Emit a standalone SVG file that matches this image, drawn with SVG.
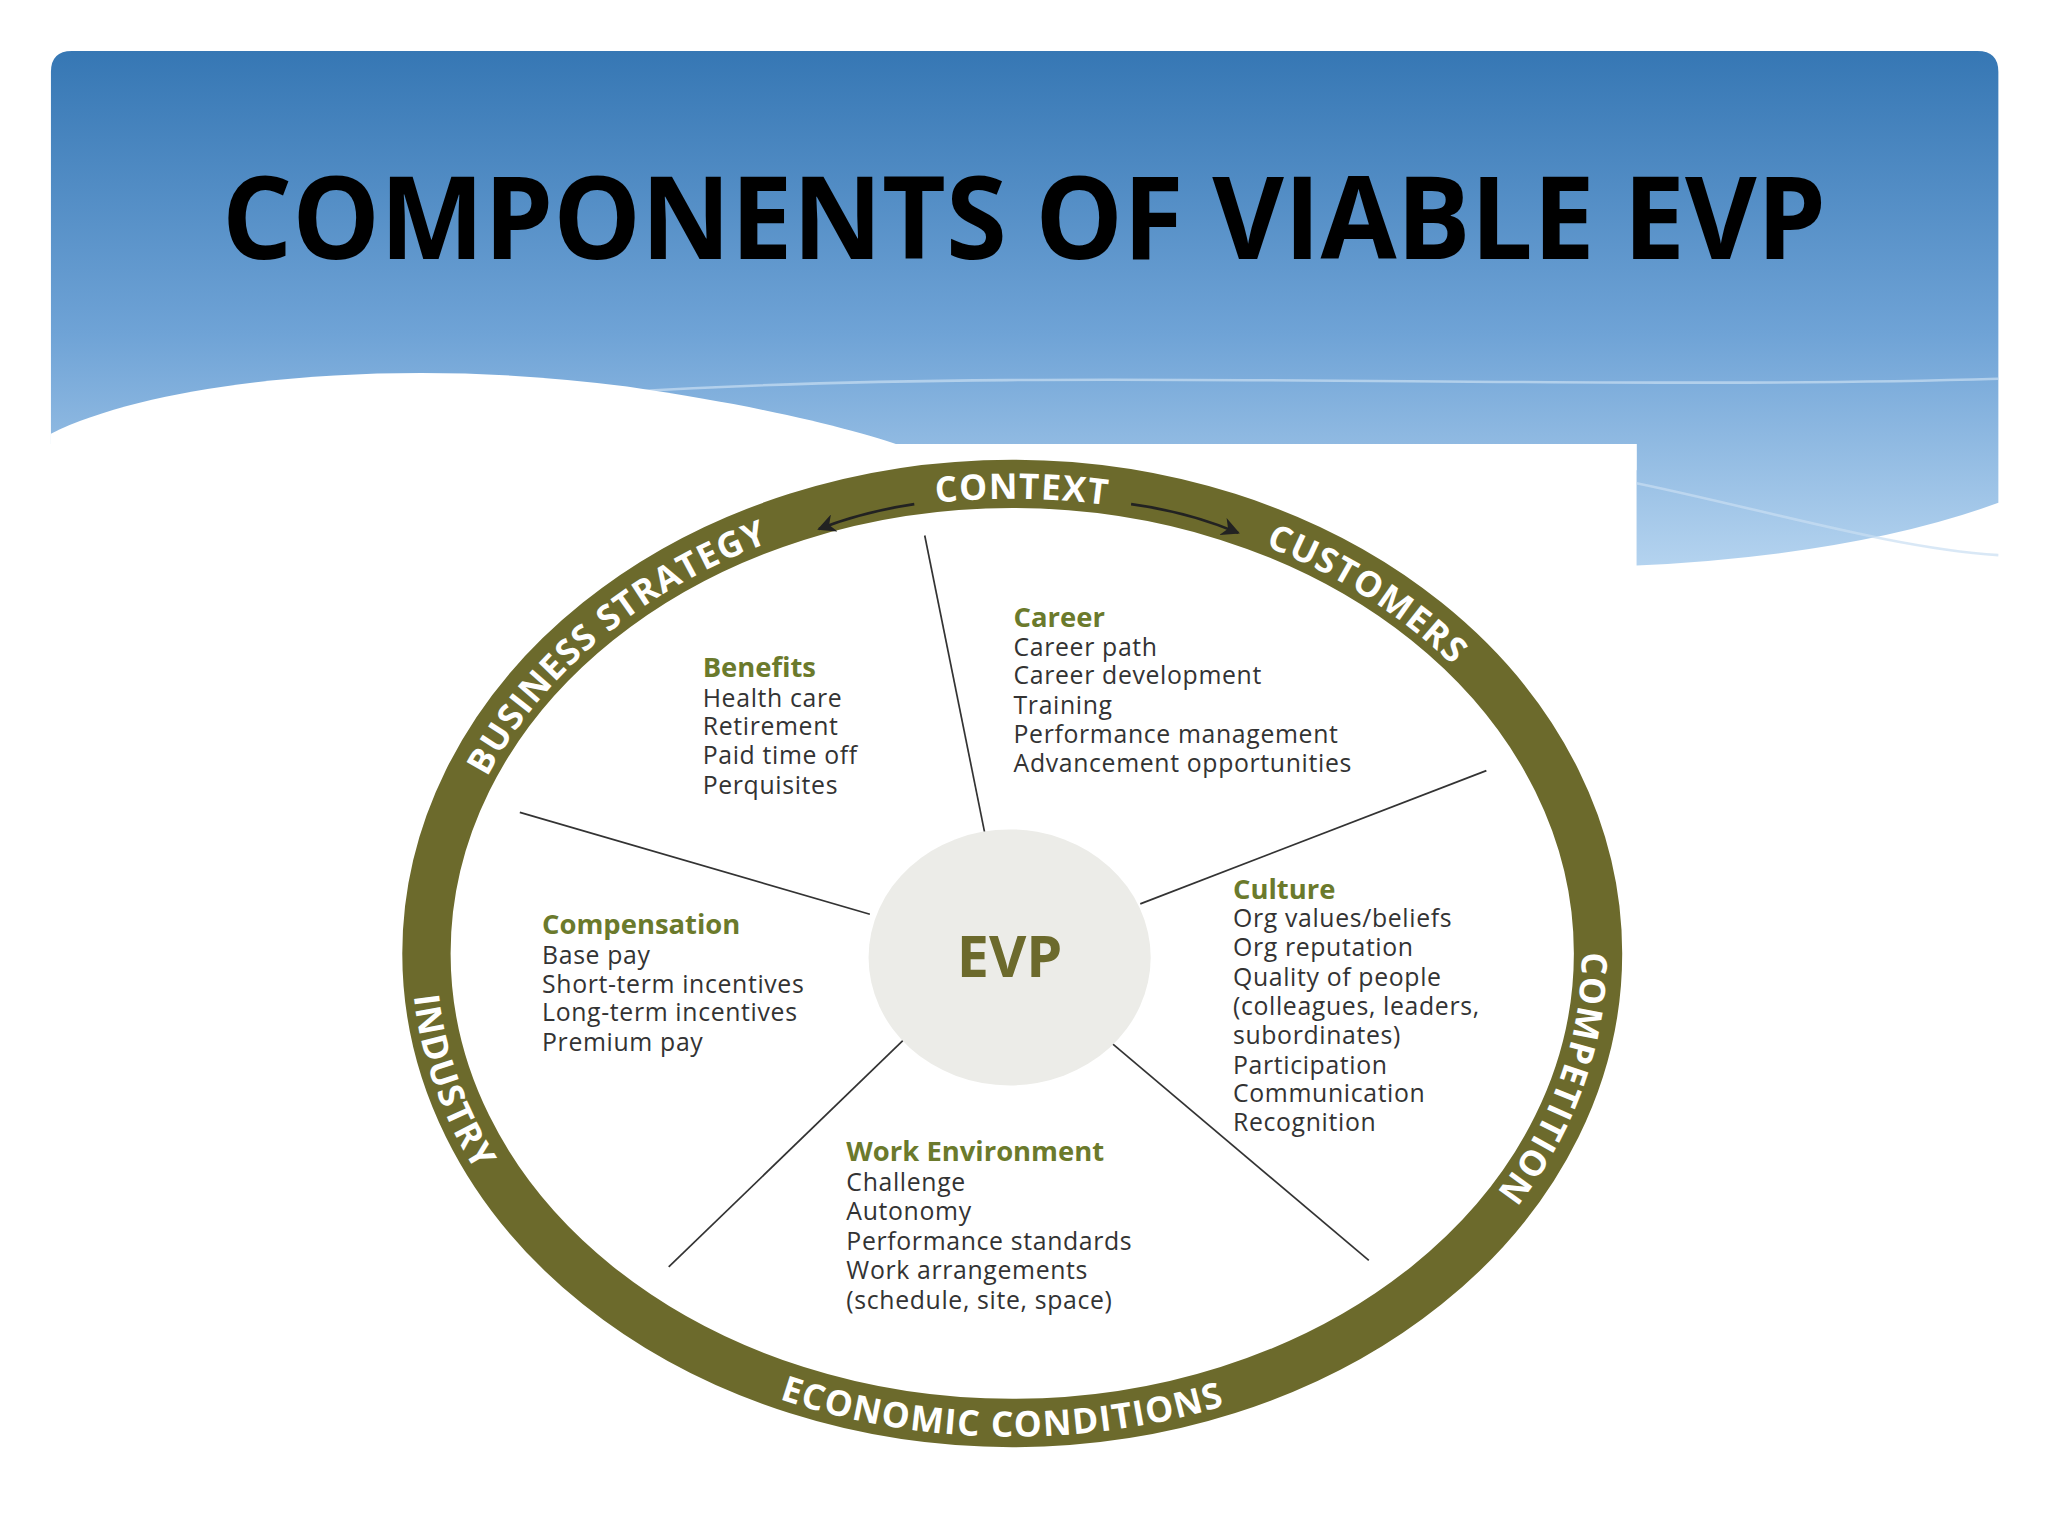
<svg xmlns="http://www.w3.org/2000/svg" width="2048" height="1536" viewBox="0 0 2048 1536">
<defs>
<linearGradient id="hg" x1="0" y1="0" x2="0" y2="1">
<stop offset="0" stop-color="#3677b4"/><stop offset="0.55" stop-color="#6fa3d6"/><stop offset="1" stop-color="#b4d3ef"/>
</linearGradient>
<marker id="ah" viewBox="0 0 10 10" refX="9" refY="5" markerWidth="7" markerHeight="7" orient="auto"><path d="M0,0 L10,5 L0,10 L3,5 Z" fill="#222"/></marker>
<path id="cw" d="M 339,730 A 436 348 0 1 1 1211,730 A 436 348 0 1 1 339,730"/>
<path id="ccw" d="M 315,730 A 460 370 0 1 0 1235,730 A 460 370 0 1 0 315,730"/>
<style>
.ring{font-family:"Open Sans","Liberation Sans",sans-serif;font-weight:700;font-size:27px;fill:#fff;letter-spacing:1px}
.hd{font-family:"Open Sans","Liberation Sans",sans-serif;font-weight:700;font-size:21px;fill:#6b7a2c}
.it{font-family:"Open Sans","Liberation Sans",sans-serif;font-size:19px;fill:#333;letter-spacing:0.5px}
.dv{stroke:#333;stroke-width:1.3}
</style>
</defs>
<rect width="2048" height="1536" fill="#fff"/>
<g transform="scale(1.30612)">
<g id="header">
<path d="M39,55 Q39,39 55,39 L1514,39 Q1530,39 1530,55 L1530,385 Q1420,425 1253,433 L1253,340 L39,340 Z" fill="url(#hg)"/>
<path d="M480,300 C800,280 1200,300 1530,290" fill="none" stroke="#c9def2" stroke-width="2" opacity="0.7"/>
<path d="M1253,370 C1350,390 1450,420 1530,425" fill="none" stroke="#c9def2" stroke-width="2" opacity="0.7"/>
<path d="M39,332 C120,292 300,272 480,296 C590,312 660,330 700,345 L39,345 Z" fill="#fff"/>
<rect x="72" y="340" width="1181" height="20" fill="#fff"/>
<text x="784" y="198" text-anchor="middle" font-family="Open Sans, Liberation Sans, sans-serif" font-weight="700" font-size="88" textLength="1228" lengthAdjust="spacingAndGlyphs" fill="#000">COMPONENTS OF VIABLE EVP</text>
</g>
<g id="ring">
<ellipse cx="775" cy="730" rx="448.5" ry="359.5" fill="none" stroke="#6c6a2c" stroke-width="37"/>
<text class="ring"><textPath href="#cw" startOffset="11.5%" text-anchor="middle">BUSINESS STRATEGY</textPath></text>
<text class="ring"><textPath href="#cw" startOffset="25.3%" text-anchor="middle">CONTEXT</textPath></text>
<text class="ring"><textPath href="#cw" startOffset="36.5%" text-anchor="middle">CUSTOMERS</textPath></text>
<text class="ring"><textPath href="#cw" startOffset="54%" text-anchor="middle">COMPETITION</textPath></text>
<text class="ring"><textPath href="#ccw" startOffset="4%" text-anchor="middle">INDUSTRY</textPath></text>
<text class="ring"><textPath href="#ccw" startOffset="24.7%" text-anchor="middle">ECONOMIC CONDITIONS</textPath></text>
</g>
<g id="connectors">
<path d="M700,386 Q660,392 627,405" fill="none" stroke="#222" stroke-width="2" marker-end="url(#ah)"/>
<path d="M866,386 Q910,392 948,408" fill="none" stroke="#222" stroke-width="2" marker-end="url(#ah)"/>
<line class="dv" x1="708" y1="410" x2="755" y2="643"/>
<line class="dv" x1="1138" y1="590" x2="873" y2="692"/>
<line class="dv" x1="848" y1="796" x2="1048" y2="965"/>
<line class="dv" x1="692" y1="796" x2="512" y2="970"/>
<line class="dv" x1="398" y1="622" x2="666" y2="700"/>
</g>
<g id="evp">
<ellipse cx="773" cy="733" rx="108" ry="98" fill="#ecece8"/>
<text x="773" y="748" text-anchor="middle" font-family="Open Sans, Liberation Sans, sans-serif" font-weight="700" font-size="44" fill="#6c6a2c">EVP</text>
</g>
<g id="benefits">
<text class="hd" x="538" y="518">Benefits</text>
<text class="it" x="538" y="541">Health care</text>
<text class="it" x="538" y="563">Retirement</text>
<text class="it" x="538" y="585">Paid time off</text>
<text class="it" x="538" y="608">Perquisites</text>
</g>
<g id="career">
<text class="hd" x="776" y="480">Career</text>
<text class="it" x="776" y="502">Career path</text>
<text class="it" x="776" y="524">Career development</text>
<text class="it" x="776" y="547">Training</text>
<text class="it" x="776" y="569">Performance management</text>
<text class="it" x="776" y="591">Advancement opportunities</text>
</g>
<g id="culture">
<text class="hd" x="944" y="688">Culture</text>
<text class="it" x="944" y="710">Org values/beliefs</text>
<text class="it" x="944" y="732">Org reputation</text>
<text class="it" x="944" y="755">Quality of people</text>
<text class="it" x="944" y="777">(colleagues, leaders,</text>
<text class="it" x="944" y="799">subordinates)</text>
<text class="it" x="944" y="822">Participation</text>
<text class="it" x="944" y="844">Communication</text>
<text class="it" x="944" y="866">Recognition</text>
</g>
<g id="compensation">
<text class="hd" x="415" y="715">Compensation</text>
<text class="it" x="415" y="738">Base pay</text>
<text class="it" x="415" y="760">Short-term incentives</text>
<text class="it" x="415" y="782">Long-term incentives</text>
<text class="it" x="415" y="805">Premium pay</text>
</g>
<g id="work">
<text class="hd" x="648" y="889">Work Environment</text>
<text class="it" x="648" y="912">Challenge</text>
<text class="it" x="648" y="934">Autonomy</text>
<text class="it" x="648" y="957">Performance standards</text>
<text class="it" x="648" y="979">Work arrangements</text>
<text class="it" x="648" y="1002">(schedule, site, space)</text>
</g>
</g>
</svg>
